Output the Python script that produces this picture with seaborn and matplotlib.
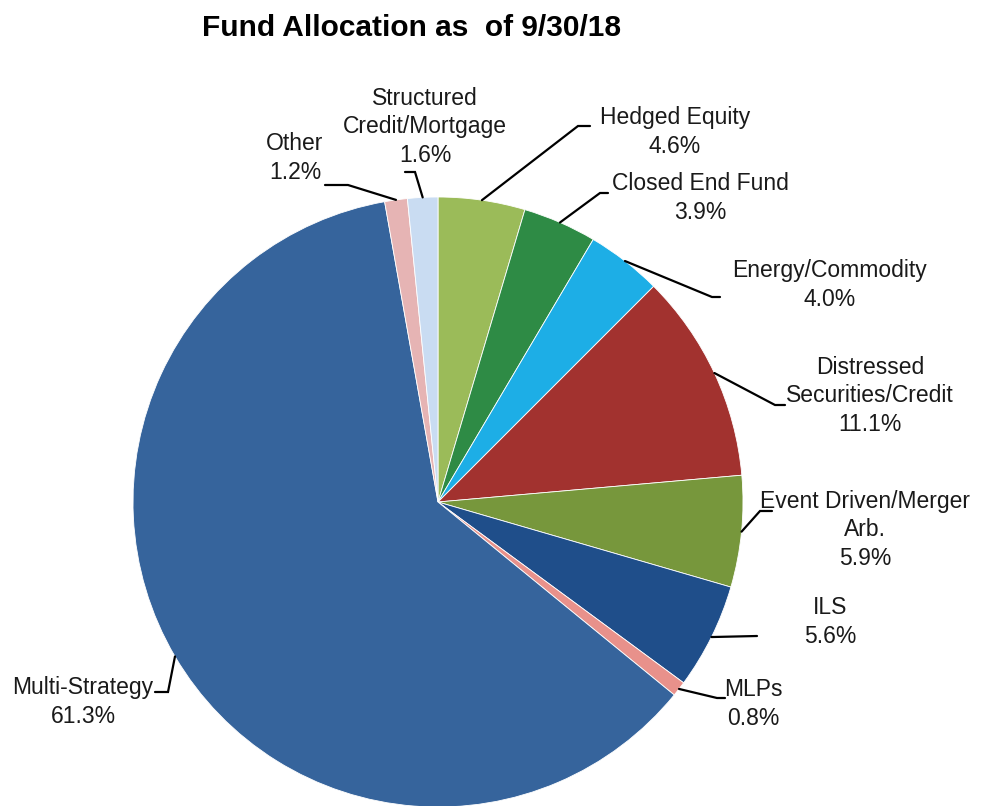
import numpy as np
import matplotlib
matplotlib.use("Agg")
import matplotlib.pyplot as plt
import seaborn as sns

categories = ["Hedged Equity", "Closed End Fund", "Energy/Commodity",
              "Distressed\nSecurities/Credit", "Event Driven/Merger\nArb.",
              "ILS", "MLPs", "Multi-Strategy", "Other",
              "Structured\nCredit/Mortgage"]
shares = [4.6, 3.9, 4.0, 11.1, 5.9, 5.6, 0.8, 61.3, 1.2, 1.6]
colors = ["#9BBB59", "#2E8B45", "#1DAEE6", "#A2322F", "#77973C",
          "#1F4E8A", "#E8918B", "#36649C", "#E6B4B4", "#C9DCF2"]

# label centres and leader-line bends, in pixels from the top left
label_xy = [(675, 132), (700, 198), (830, 285), (870, 396), (865, 530),
            (830, 622), (753, 704), (83, 702), (295, 158), (425, 127)]
elbows = [[(578, 126), (590, 126)],
          [(600, 193), (608, 193)],
          [(712, 297), (720, 297)],
          [(775, 405), (785, 405)],
          [(760, 511), (772, 511)],
          [(757, 636)],
          [(717, 698), (725, 698)],
          [(168, 692), (155, 692)],
          [(348, 185), (325, 185)],
          [(415, 172), (405, 172)]]

W, H = 984, 806
cx, cy, r = 438, 502, 305

sns.set_theme(style="white")
plt.rcParams["font.family"] = ["Liberation Sans", "DejaVu Sans"]

fig = plt.figure(figsize=(W / 100, H / 100), dpi=100)
ax = fig.add_axes([0, 0, 1, 1])
ax.set_xlim(0, W)
ax.set_ylim(0, H)
ax.set_aspect("equal")
ax.axis("off")

wedges, _ = ax.pie(shares, colors=colors, startangle=90, counterclock=False,
                   center=(cx, H - cy), radius=r,
                   wedgeprops=dict(edgecolor="white", linewidth=0.6))
ax.set_xlim(0, W)
ax.set_ylim(0, H)

for w, lab, val, (lx, ly), bends in zip(wedges, categories, shares, label_xy, elbows):
    mid = np.deg2rad((w.theta1 + w.theta2) / 2)
    sx = cx + r * np.cos(mid)
    sy = (H - cy) + r * np.sin(mid)
    xs = [sx] + [b[0] for b in bends]
    ys = [sy] + [H - b[1] for b in bends]
    ax.plot(xs, ys, color="black", lw=1.6, solid_joinstyle="miter")
    ax.text(lx, H - ly, f"{lab}\n{val:.1f}%", ha="center", va="center",
            fontsize=16.5, linespacing=1.3, color="#1a1a1a")

ax.text(411, H - 28, "Fund Allocation as  of 9/30/18", ha="center", va="center",
        fontsize=21.5, fontweight="bold", color="black")

fig.savefig("out.png", dpi=100)
